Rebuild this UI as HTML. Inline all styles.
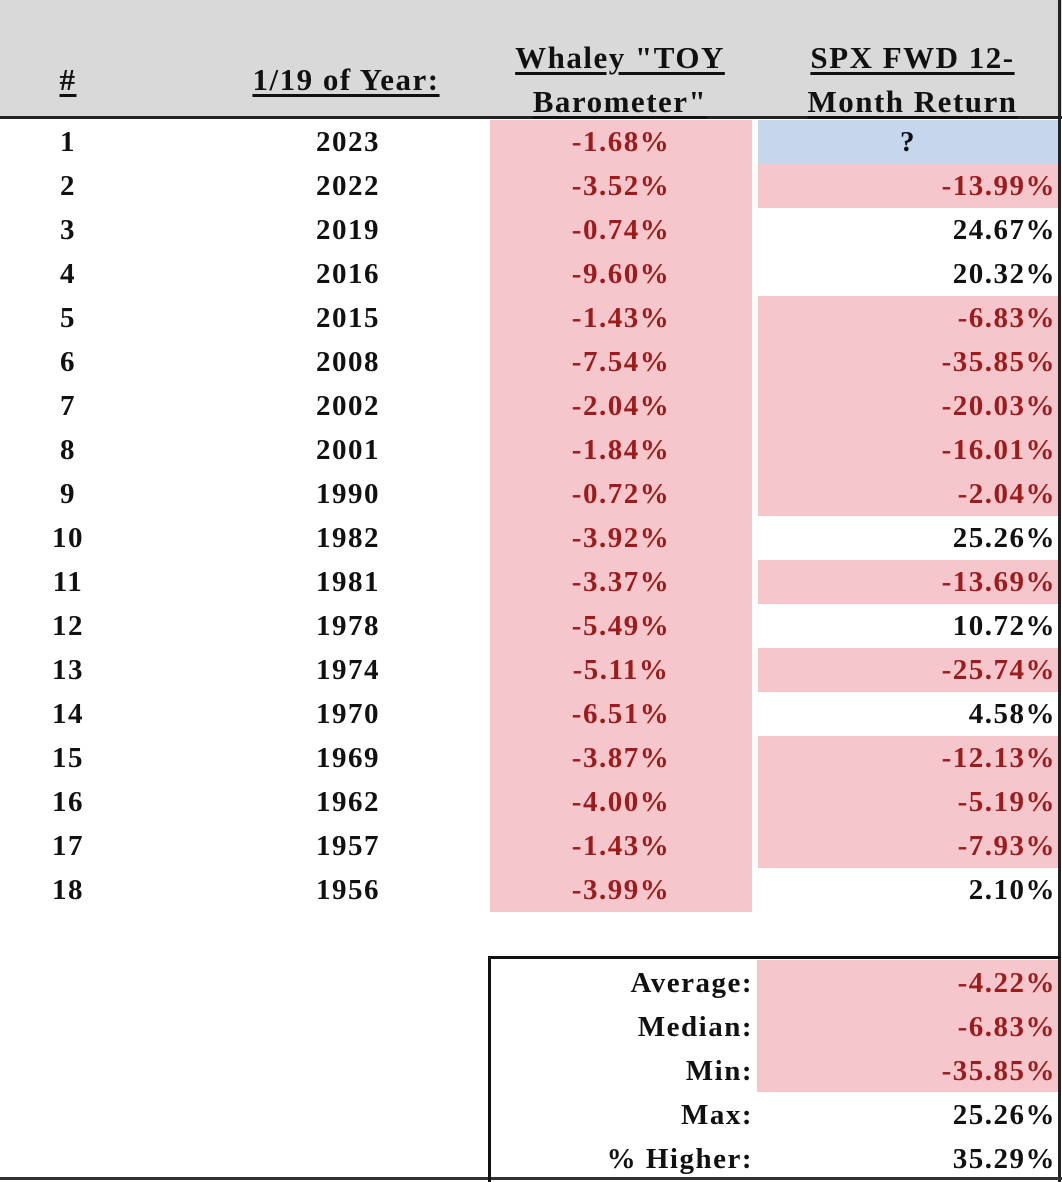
<!DOCTYPE html>
<html><head><style>
body{margin:0;width:1062px;height:1182px;background:#fff;position:relative;overflow:hidden;font-family:"Liberation Serif",serif;font-weight:bold;font-size:29px;letter-spacing:1.5px;color:#111}
.a{position:absolute}
.h{position:absolute;background:#d9d9d9;left:0;top:0;width:1062px;height:117px}
.ht{position:absolute;text-align:center;font-size:31px;line-height:44px;text-decoration:underline;text-underline-offset:4px;letter-spacing:1.5px}
.r{position:absolute;height:44px;line-height:44px;white-space:nowrap}
.pk{background:#f5c6cc}
.red{color:#9c1c1c}
</style></head><body>
<div class="h"></div>
<div class="a" style="left:0;top:116px;width:1062px;height:3px;background:#222"></div>
<div class="a" style="left:1058px;top:0;width:3px;height:1182px;background:#222"></div>
<div class="a" style="left:0;top:1177px;width:1062px;height:3px;background:#333"></div>
<div class="ht" style="left:38px;width:60px;top:58px">#</div>
<div class="ht" style="left:216px;width:260px;top:58px">1/19 of Year:</div>
<div class="ht" style="left:490px;width:260px;top:36px">Whaley "TOY<br>Barometer"</div>
<div class="ht" style="left:775px;width:275px;top:36px">SPX FWD 12-<br>Month Return</div>
<div class="a pk" style="left:757px;top:960px;width:301px;height:132px"></div>
<div class="a" style="left:488px;top:956px;width:572px;height:3px;background:#111"></div>
<div class="a" style="left:488px;top:956px;width:3px;height:226px;background:#111"></div>
<div id="rows"></div>
<script>
var d=[[1,2023,"-1.68%","?"],[2,2022,"-3.52%","-13.99%"],[3,2019,"-0.74%","24.67%"],[4,2016,"-9.60%","20.32%"],[5,2015,"-1.43%","-6.83%"],[6,2008,"-7.54%","-35.85%"],[7,2002,"-2.04%","-20.03%"],[8,2001,"-1.84%","-16.01%"],[9,1990,"-0.72%","-2.04%"],[10,1982,"-3.92%","25.26%"],[11,1981,"-3.37%","-13.69%"],[12,1978,"-5.49%","10.72%"],[13,1974,"-5.11%","-25.74%"],[14,1970,"-6.51%","4.58%"],[15,1969,"-3.87%","-12.13%"],[16,1962,"-4.00%","-5.19%"],[17,1957,"-1.43%","-7.93%"],[18,1956,"-3.99%","2.10%"]];
var h="";
d.forEach(function(r,i){var y=120+i*44;
h+='<div class="r" style="left:28px;width:80px;top:'+y+'px;text-align:center">'+r[0]+'</div>';
h+='<div class="r" style="left:288px;width:120px;top:'+y+'px;text-align:center">'+r[1]+'</div>';
h+='<div class="r pk red" style="left:490px;width:262px;top:'+y+'px;text-align:center">'+r[2]+'</div>';
if(r[3]=="?")h+='<div class="r" style="left:758px;width:300px;top:'+y+'px;text-align:center;background:#c6d6ec">?</div>';
else{var n=r[3][0]=="-";h+='<div class="r'+(n?' pk red':'')+'" style="left:758px;width:300px;top:'+y+'px;text-align:right;box-sizing:border-box;padding-right:2px">'+r[3]+'</div>';}
});
var s=[["Average:","-4.22%",1],["Median:","-6.83%",1],["Min:","-35.85%",1],["Max:","25.26%",0],["% Higher:","35.29%",0]];
s.forEach(function(r,i){var y=961+i*44;
h+='<div class="r" style="left:495px;width:258px;top:'+y+'px;text-align:right">'+r[0]+'</div>';
h+='<div class="r'+(r[2]?' red':'')+'" style="left:758px;width:300px;top:'+y+'px;text-align:right;box-sizing:border-box;padding-right:2px">'+r[1]+'</div>';
});
document.getElementById("rows").innerHTML=h;
</script>
</body></html>
